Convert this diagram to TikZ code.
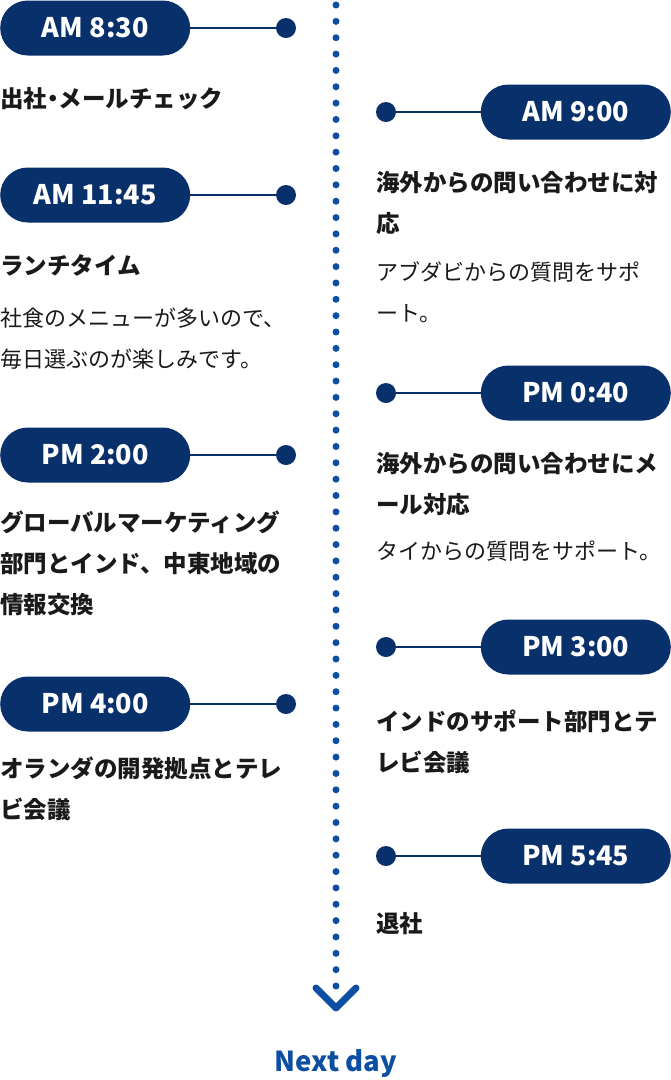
\documentclass[tikz,border=0pt]{standalone}
\usepackage{fontspec}
\setmainfont{Noto Sans CJK JP}
\usepackage{tikz}
\usetikzlibrary{positioning,arrows.meta,calc}
\definecolor{cNavy}{HTML}{08306B}
\definecolor{cDot}{HTML}{0B4EA2}
\definecolor{cInk}{HTML}{1A1A1A}
\tikzset{
  pill/.style={fill=cNavy, text=white, rounded corners=27.5pt, minimum width=190pt,
               minimum height=55pt, inner sep=0pt, font=\bfseries\fontsize{27}{27}\selectfont},
  knob/.style={circle, fill=cNavy, minimum size=20pt, inner sep=0pt},
  stem/.style={cNavy, line width=2pt},
  head/.style={cInk, align=left, inner sep=0pt, anchor=base west,
               font=\bfseries\fontsize{23.5}{41}\selectfont},
  note/.style={cInk, align=left, inner sep=0pt, anchor=base west,
               font=\fontsize{22}{41}\selectfont},
  timeline/.style={cDot, line width=7pt, line cap=round, dash pattern=on 0pt off 16.35pt},
  chev/.style={cDot, line width=7pt, line cap=round, line join=round}
}

\begin{document}
\begin{tikzpicture}[x=1pt, y=-1pt]
\useasboundingbox (0,0) rectangle (671,1080);
% centre line
\coordinate (top) at (336,5);
\coordinate (tip) at (336,1008);
\draw[timeline] (top) -- (336,986);
\draw[chev] ([shift={(-20,-20)}]tip) -- (tip) -- ([shift={(20,-20)}]tip);
\node[cDot, font=\bfseries\fontsize{27.5}{27.5}\selectfont] (next) at (336,1064) {Next day};
% left side
\foreach \t/\y [count=\i] in {AM 8:30/28, AM 11:45/195, PM 2:00/455, PM 4:00/704}
  {\node[pill, anchor=west] (L\i) at (0,\y) {\t};
   \node[knob] (kL\i) at (286,\y) {};
   \draw[stem] (L\i.east) -- (kL\i);}
% right side
\foreach \t/\y [count=\i] in {AM 9:00/112, PM 0:40/393, PM 3:00/647, PM 5:45/856}
  {\node[pill, anchor=east] (R\i) at (671,\y) {\t};
   \node[knob] (kR\i) at (386,\y) {};
   \draw[stem] (kR\i) -- (R\i.west);}
% texts (anchored at the baseline of the last line)
\node[head] (tL1) at (0,107.5) {出社\kern-6pt・\kern-6pt メールチェック};
\node[head] (tL2) at (0,274.5) {ランチタイム};
\node[note] (nL2) at (0,367) {社食のメニューが多いので、\\毎日選ぶのが楽しみです。};
\node[head] (tL3) at (0,613.5) {グローバルマーケティング\\部門とインド、中東地域の\\情報交換};
\node[head] (tL4) at (0,818.5) {オランダの開発拠点とテレ\\ビ会議};
\node[head] (tR1) at (376,232.5) {海外からの問い合わせに対\\応};
\node[note] (nR1) at (376,321) {アブダビからの質問をサポ\\ート。};
\node[head] (tR2) at (376,513.5) {海外からの問い合わせにメ\\ール対応};
\node[note] (nR2) at (376,559) {タイからの質問をサポート。};
\node[head] (tR3) at (376,771.5) {インドのサポート部門とテ\\レビ会議};
\node[head] (tR4) at (376,932.5) {退社};
\end{tikzpicture}
\end{document}
